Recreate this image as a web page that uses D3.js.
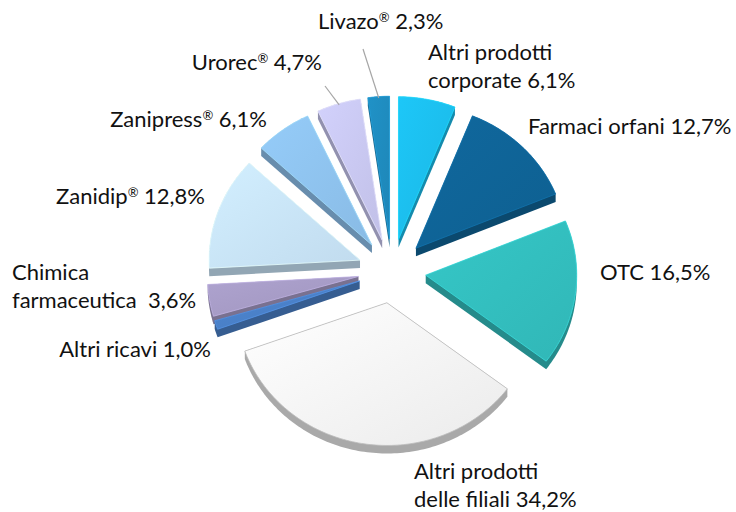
<!DOCTYPE html>
<html lang="it">
<head>
<meta charset="UTF-8">
<title>Ricavi per linea di prodotto</title>
<script src="https://d3js.org/d3.v7.min.js"></script>
<style>
  body { margin: 0; background: #fff; }
  svg { display: block; }
  .lbl { font-family: Lato, "Open Sans", sans-serif; font-size: 22px; fill: #111; white-space: pre; }
  .reg { font-size: 13px; }
</style>
</head>
<body>
<svg width="736" height="512"></svg>
<script>
// data, clockwise from 12 o'clock
const categories = ["Altri prodotti corporate", "Farmaci orfani", "OTC", "Altri prodotti delle filiali",
  "Altri ricavi", "Chimica farmaceutica", "Zanidip®", "Zanipress®", "Urorec®", "Livazo®"];
const shares = [6.1, 12.7, 16.5, 34.2, 1.0, 3.6, 12.8, 6.1, 4.7, 2.3];
const labelLines = [["Altri prodotti", "corporate 6,1%"], ["Farmaci orfani 12,7%"], ["OTC 16,5%"],
  ["Altri prodotti", "delle filiali 34,2%"], ["Altri ricavi 1,0%"], ["Chimica", "farmaceutica  3,6%"],
  ["Zanidip® 12,8%"], ["Zanipress® 6,1%"], ["Urorec® 4,7%"], ["Livazo® 2,3%"]];
const colors = ["#1cbfee", "#0f6497", "#33bfbf", "#f6f6f6", "#4a80c8", "#a79cc6",
  "#c9e5f8", "#8fc3ef", "#c9c8f1", "#1f8cbf"];

// layout: label anchor x / first baseline / text-anchor, and leader line starts
const labelPos = [[428, 60, "start"], [528, 134, "start"], [600, 280, "start"], [414, 479, "start"],
  [211, 357, "end"], [12, 280, "start"], [205, 204, "end"], [267, 127, "end"], [322, 70, "end"],
  [318, 29, "start"]];
const leaders = { 9: [363, 49], 8: [325, 86] };

const svg = d3.select("svg");
const cx = 392, cy = 271, rx = 151, tilt = 0.945, explode = 34, depth = 8;
const proj = (a, r) => [Math.sin(a) * r, -Math.cos(a) * r * tilt];

const arcs = d3.pie().sort(null).value(d => d)(shares);
const defs = svg.append("defs");

const slices = arcs.map((d, i) => {
  const mid = (d.startAngle + d.endAngle) / 2;
  const off = proj(mid, explode);
  const ox = cx + off[0], oy = cy + off[1];
  const pts = [[ox, oy]];
  const n = Math.max(4, Math.ceil((d.endAngle - d.startAngle) / 0.02));
  for (let k = 0; k <= n; k++) {
    const a = d.startAngle + (d.endAngle - d.startAngle) * k / n;
    const p = proj(a, rx);
    pts.push([ox + p[0], oy + p[1]]);
  }
  return { d, i, mid, ox, oy, pts };
});

// gradients
slices.forEach(s => {
  const c = d3.color(colors[s.i]);
  const g = defs.append("linearGradient").attr("id", "top" + s.i)
    .attr("x1", 0).attr("y1", 0).attr("x2", 1).attr("y2", 1);
  g.append("stop").attr("offset", 0).attr("stop-color", s.i === 3 ? "#ffffff" : c.brighter(0.12));
  g.append("stop").attr("offset", 1).attr("stop-color", s.i === 3 ? "#ebebeb" : c.darker(0.12));
});

const line = d3.line();
const order = slices.slice().sort((a, b) => Math.cos(b.mid) - Math.cos(a.mid));

order.forEach(s => {
  const side = d3.polygonHull(s.pts.concat(s.pts.map(p => [p[0], p[1] + depth])));
  const c = d3.color(colors[s.i]);
  svg.append("path")
    .attr("d", line(side) + "Z")
    .attr("fill", s.i === 3 ? "#a9a9a9" : c.darker(0.9));
  svg.append("path")
    .attr("d", line(s.pts) + "Z")
    .attr("fill", `url(#top${s.i})`)
    .attr("stroke", s.i === 3 ? "#bdbdbd" : c.brighter(0.4))
    .attr("stroke-width", 0.8)
    .attr("stroke-linejoin", "round");
});

// leader lines to slice outer edge
Object.entries(leaders).forEach(([i, start]) => {
  const s = slices[+i];
  const p = proj(s.mid, rx * 0.99);
  svg.append("line")
    .attr("x1", start[0]).attr("y1", start[1])
    .attr("x2", s.ox + p[0]).attr("y2", s.oy + p[1])
    .attr("stroke", "#a6a6a6").attr("stroke-width", 1.2);
});

// labels, with a small raised ® like the original
labelLines.forEach((lines, i) => {
  const [x, y, anchor] = labelPos[i];
  const t = svg.append("text").attr("class", "lbl")
    .attr("text-anchor", anchor).attr("x", x).attr("y", y);
  lines.forEach((l, k) => {
    const parts = l.split("®");
    t.append("tspan").attr("x", x).attr("dy", k === 0 ? 0 : 28).text(parts[0]);
    if (parts.length > 1) {
      t.append("tspan").attr("class", "reg").attr("dy", -7).text("®");
      t.append("tspan").attr("dy", 7).text(parts[1]);
    }
  });
});
</script>
</body>
</html>
